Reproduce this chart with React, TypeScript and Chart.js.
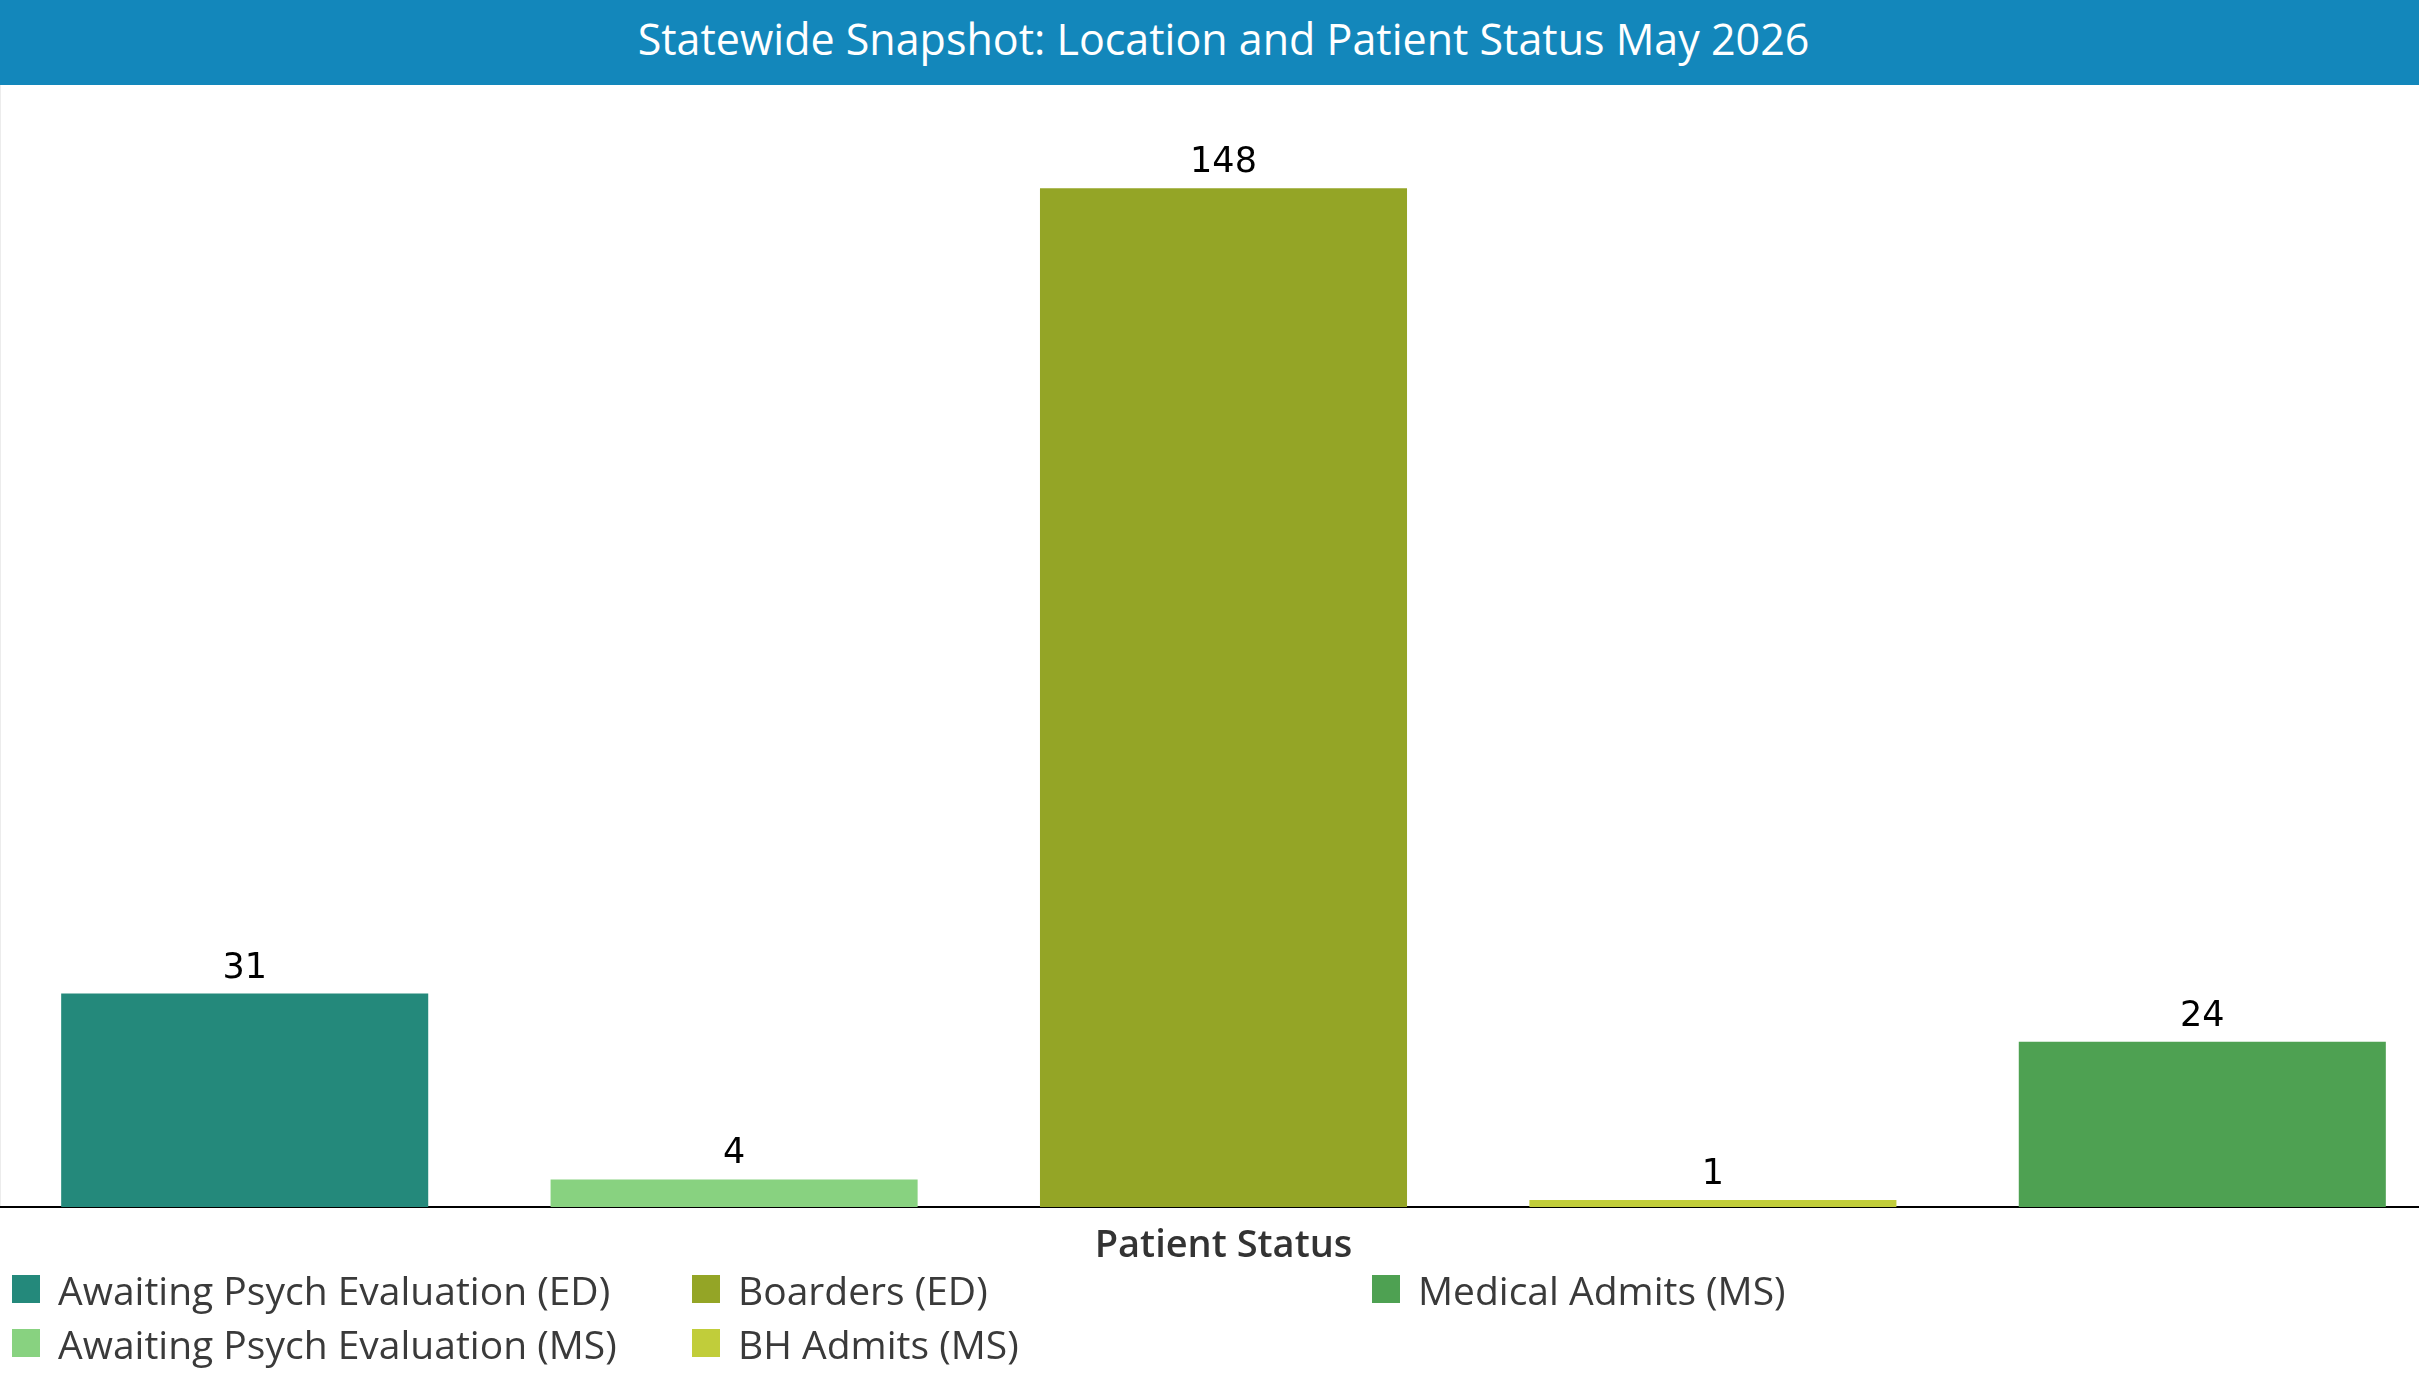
import React, { useEffect, useRef } from "react";
import { Chart, registerables } from "chart.js";

Chart.register(...registerables);

const chartTitle = "Statewide Snapshot: Location and Patient Status May 2026";
const xAxisTitle = "Patient Status";
const categories = [
  "Awaiting Psych Evaluation (ED)",
  "Awaiting Psych Evaluation (MS)",
  "Boarders (ED)",
  "BH Admits (MS)",
  "Medical Admits (MS)",
];
const values = [31, 4, 148, 1, 24];
const barColors = ["#24897b", "#88d280", "#94a526", "#c1cd3a", "#4ea152"];

const PANE_W = 2447;
const CANVAS_TOP = 85;
const CANVAS_H = 1184;

const valueLabels = {
  id: "valueLabels",
  afterDatasetsDraw(chart: any) {
    const ctx = chart.ctx;
    const meta = chart.getDatasetMeta(0);
    ctx.save();
    ctx.font = '35px "DejaVu Sans"';
    ctx.fillStyle = "#000000";
    ctx.textAlign = "center";
    ctx.textBaseline = "alphabetic";
    meta.data.forEach((bar: any, i: number) => {
      ctx.fillText(String(values[i]), bar.x, bar.y - 16);
    });
    ctx.restore();
  },
};

export default function App() {
  const canvasRef = useRef<HTMLCanvasElement | null>(null);

  useEffect(() => {
    const canvas = canvasRef.current;
    if (!canvas) return;
    const chart = new Chart(canvas, {
      type: "bar",
      data: {
        labels: categories,
        datasets: [
          {
            data: values,
            backgroundColor: barColors,
            borderWidth: 0,
            barPercentage: 0.75,
            categoryPercentage: 1,
          },
        ],
      },
      options: {
        animation: false,
        responsive: false,
        devicePixelRatio: 1,
        layout: { padding: 0 },
        plugins: {
          legend: { display: false },
          tooltip: { enabled: false },
        },
        scales: {
          x: {
            display: true,
            grid: { display: false, drawTicks: false },
            border: { display: true, color: "#000000", width: 2 },
            ticks: { display: false },
            title: {
              display: true,
              text: xAxisTitle,
              color: "#333333",
              font: { family: "Open Sans", size: 38, weight: "600", lineHeight: 1.2 },
              padding: { top: 16.4, bottom: 0 },
            },
          },
          y: {
            display: false,
            min: 0,
            max: 163,
          },
        },
      },
      plugins: [valueLabels],
    });
    return () => chart.destroy();
  }, []);

  const legendCols = [12, 692, 1372];
  const legendRows = [1275, 1329];

  return (
    <div
      style={{
        position: "fixed",
        left: 0,
        top: 0,
        width: 2419,
        height: 1375,
        overflow: "hidden",
        background: "#ffffff",
      }}
    >
      <div
        style={{
          position: "absolute",
          left: 0,
          top: 0,
          width: PANE_W,
          height: 85,
          background: "#1387bb",
          color: "#ffffff",
          fontFamily: "'Open Sans'",
          fontSize: 43,
          lineHeight: "77px",
          textAlign: "center",
          whiteSpace: "nowrap",
        }}
      >
        {chartTitle}
      </div>
      <div
        style={{
          position: "absolute",
          left: 0,
          top: 85,
          width: 1,
          height: 1122,
          background: "#ececec",
        }}
      />
      <canvas
        ref={canvasRef}
        width={PANE_W}
        height={CANVAS_H}
        style={{
          position: "absolute",
          left: 0,
          top: CANVAS_TOP,
          width: PANE_W,
          height: CANVAS_H,
        }}
      />
      {categories.map((c, i) => {
        const col = Math.floor(i / 2);
        const row = i % 2;
        const x = legendCols[col];
        const y = legendRows[row];
        return (
          <React.Fragment key={c}>
            <div
              style={{
                position: "absolute",
                left: x,
                top: y,
                width: 28,
                height: 28,
                background: barColors[i],
              }}
            />
            <div
              style={{
                position: "absolute",
                left: x + 46,
                top: y + 1,
                height: 28,
                lineHeight: "28px",
                fontFamily: "'Open Sans'",
                fontWeight: 400,
                fontSize: 39,
                color: "#3a3a3a",
                whiteSpace: "nowrap",
              }}
            >
              {c}
            </div>
          </React.Fragment>
        );
      })}
    </div>
  );
}
